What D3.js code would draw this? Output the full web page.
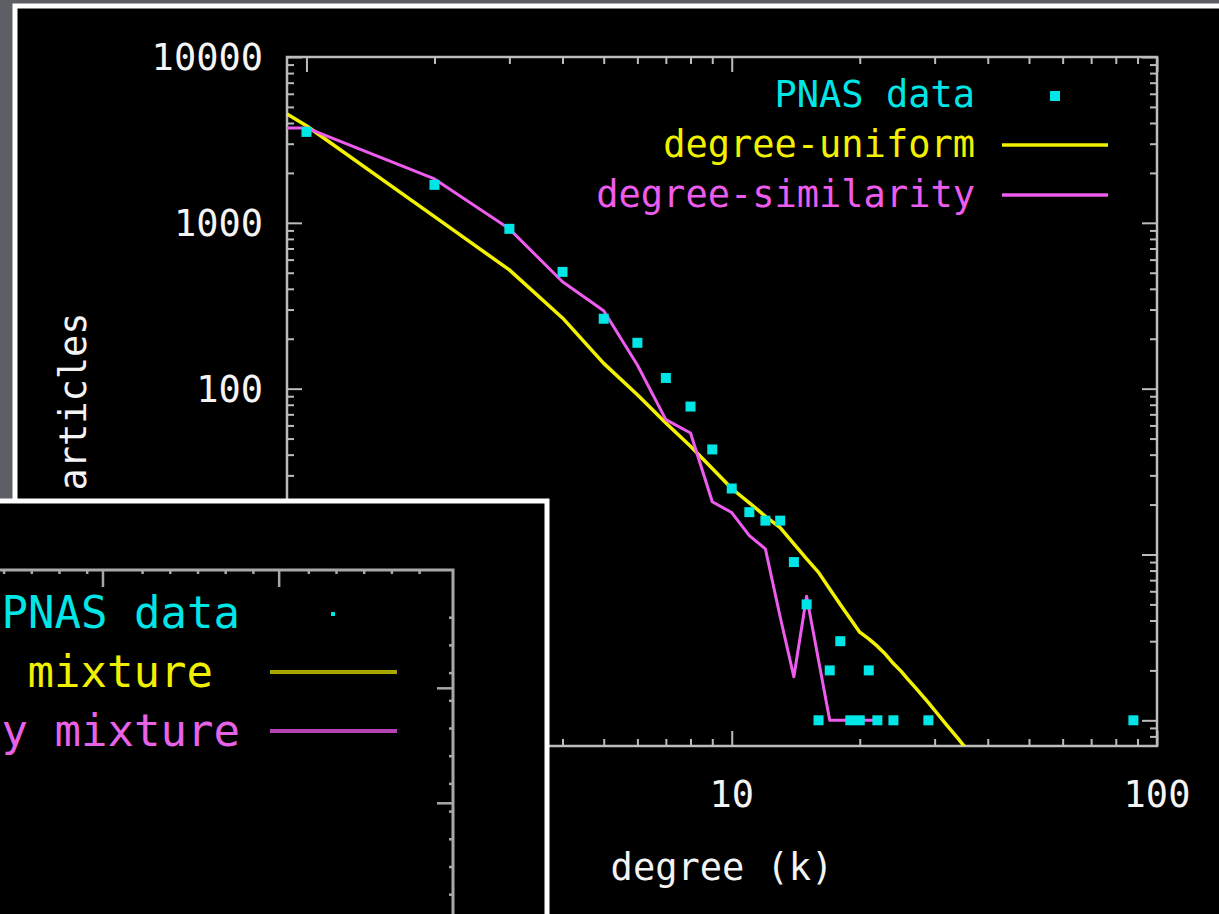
<!DOCTYPE html>
<html>
<head>
<meta charset="utf-8">
<script src="https://cdn.jsdelivr.net/npm/d3@7"></script>
<style>
  html, body { margin: 0; padding: 0; background: #5e5f64; overflow: hidden; }
  svg { display: block; }
  text { font-family: "DejaVu Sans Mono", monospace; }
</style>
</head>
<body>
<svg></svg>
<script>
// PNAS degree distribution (points)
const pnasK     = [1, 2, 3, 4, 5, 6, 7, 8, 9, 10, 11, 12, 13, 14, 15, 16, 17, 18, 19, 20, 21, 22, 24, 29, 88];
const pnasCount = [3535, 1694, 920, 506, 264, 189, 116, 78, 43, 25, 18, 16, 16, 9, 5, 1, 2, 3, 1, 1, 2, 1, 1, 1, 1];

// degree-uniform model
const uniformK     = [0.9, 1, 2, 3, 4, 5, 6, 7, 8, 9, 10, 11, 12, 13, 14, 15, 16, 17, 18, 19, 20, 21, 22, 23, 24, 25, 26, 27, 28, 29, 30, 32, 34, 36];
const uniformCount = [4540, 3850, 1090, 520, 267, 142, 92, 62, 45, 33, 25, 20.5, 17, 14.5, 11.6, 9.4, 7.8, 6.2, 5.0, 4.1, 3.4, 3.1, 2.8, 2.5, 2.2, 1.98, 1.76, 1.58, 1.42, 1.28, 1.15, 0.94, 0.78, 0.65];

// degree-similarity model
const simK     = [0.9, 1, 2, 3, 4, 5, 6, 7, 8, 9, 10, 11, 12, 13, 14, 15, 16, 17, 18, 19, 20, 21, 22];
const simCount = [3735, 3735, 1840, 920, 441, 295, 139, 65, 54, 20.8, 17.9, 13, 10.8, 4.2, 1.83, 5.6, 2.3, 1, 1, 1, 1, 1, 1];

// axis ticks
const xMajor = [1, 10, 100];
const xMinor = [2, 3, 4, 5, 6, 7, 8, 9, 20, 30, 40, 50, 60, 70, 80, 90];
const yMajor = [1, 10, 100, 1000, 10000];
const yMinor = [0.8, 0.9, 2, 3, 4, 5, 6, 7, 8, 9, 20, 30, 40, 50, 60, 70, 80, 90,
                200, 300, 400, 500, 600, 700, 800, 900, 2000, 3000, 4000, 5000, 6000, 7000, 8000, 9000];

const legendLabels = ["PNAS data", "degree-uniform", "degree-similarity"];

// the second (partly hidden) panel
const insetLabels = ["PNAS data", "degree-driven mixture", "degree-similarity mixture"];
const insetTopMinor = [0, 1, 2, 3, 5, 6, 7, 8, 9, 11, 12, 13, 14, 15];
const insetTopMajor = [3.57, 9.93];
const insetRightMinor = [1, 2, 3, 4, 5, 6, 7, 8, 9, 10, 11];
const insetRightMajor = [3.55, 7.7];

const cyan = "#00e6e6", yellow = "#f2f200", magenta = "#ee5cee", axisGrey = "#bcbcbc";

const svgWidth = 1219;
const svgHeight = 914;
const svg = d3.select("svg")
    .attr("width", svgWidth)
    .attr("height", svgHeight);

// back panel
svg.append("rect")
    .attr("x", 15).attr("y", 6)
    .attr("width", 1300).attr("height", 1000)
    .attr("fill", "#000")
    .attr("stroke", "#fff")
    .attr("stroke-width", 5);

const frame = {left: 287, top: 57, right: 1157, bottom: 746};

const x = d3.scaleLog().domain([0.9, 100]).range([frame.left, frame.right]);
const y = d3.scaleLog().domain([0.7, 10000]).range([frame.bottom, frame.top]);

svg.append("clipPath").attr("id", "plotclip")
  .append("rect")
    .attr("x", frame.left).attr("y", frame.top)
    .attr("width", frame.right - frame.left)
    .attr("height", frame.bottom - frame.top);

// ticks, mirrored on all four sides
function tickAxis(axis, values, size, transform) {
    const g = svg.append("g")
        .attr("transform", transform)
        .call(axis.tickValues(values).tickSize(-size).tickSizeOuter(0).tickFormat(""));
    g.select(".domain").remove();
    g.selectAll(".tick line").attr("stroke", axisGrey).attr("stroke-width", 2);
    return g;
}
tickAxis(d3.axisBottom(x), xMinor, 7, "translate(0," + frame.bottom + ")");
tickAxis(d3.axisBottom(x), xMajor, 15, "translate(0," + frame.bottom + ")");
tickAxis(d3.axisTop(x), xMinor, 7, "translate(0," + frame.top + ")");
tickAxis(d3.axisTop(x), xMajor, 15, "translate(0," + frame.top + ")");
tickAxis(d3.axisLeft(y), yMinor, 7, "translate(" + frame.left + ",0)");
tickAxis(d3.axisLeft(y), yMajor, 15, "translate(" + frame.left + ",0)");
tickAxis(d3.axisRight(y), yMinor, 7, "translate(" + frame.right + ",0)");
tickAxis(d3.axisRight(y), yMajor, 15, "translate(" + frame.right + ",0)");

svg.append("rect")
    .attr("x", frame.left).attr("y", frame.top)
    .attr("width", frame.right - frame.left)
    .attr("height", frame.bottom - frame.top)
    .attr("fill", "none")
    .attr("stroke", axisGrey)
    .attr("stroke-width", 2.5);

// tick labels
svg.append("g")
    .attr("fill", "#f4f4f4")
    .attr("font-size", 37)
    .attr("text-anchor", "end")
    .selectAll("text")
    .data(yMajor)
    .enter().append("text")
    .attr("x", 263)
    .attr("y", d => y(d) + 13)
    .text(d => d);

svg.append("g")
    .attr("fill", "#f4f4f4")
    .attr("font-size", 37)
    .attr("text-anchor", "middle")
    .selectAll("text")
    .data(xMajor)
    .enter().append("text")
    .attr("x", d => x(d))
    .attr("y", 807)
    .text(d => d);

// axis titles
svg.append("text")
    .attr("fill", "#f4f4f4")
    .attr("font-size", 37)
    .attr("text-anchor", "middle")
    .attr("x", 722)
    .attr("y", 880)
    .text("degree (k)");

svg.append("text")
    .attr("fill", "#f4f4f4")
    .attr("font-size", 37)
    .attr("text-anchor", "middle")
    .attr("transform", "translate(86," + (frame.top + frame.bottom) / 2 + ") rotate(-90)")
    .text("articles");

// series
const plot = svg.append("g").attr("clip-path", "url(#plotclip)");

const line = d3.line().x(d => x(d[0])).y(d => y(d[1]));

plot.append("path")
    .datum(d3.zip(uniformK, uniformCount))
    .attr("fill", "none")
    .attr("stroke", yellow)
    .attr("stroke-width", 3.5)
    .attr("stroke-linejoin", "round")
    .attr("d", line);

plot.append("path")
    .datum(d3.zip(simK, simCount))
    .attr("fill", "none")
    .attr("stroke", magenta)
    .attr("stroke-width", 3)
    .attr("stroke-linejoin", "round")
    .attr("d", line);

plot.append("g")
    .attr("fill", cyan)
    .selectAll("rect")
    .data(d3.zip(pnasK, pnasCount))
    .enter().append("rect")
    .attr("x", d => x(d[0]) - 5)
    .attr("y", d => y(d[1]) - 5)
    .attr("width", 10)
    .attr("height", 10);

// legend (top-right)
const legendColors = [cyan, yellow, magenta];
const legend = svg.append("g")
    .attr("font-size", 37)
    .attr("text-anchor", "end")
    .selectAll("g")
    .data(legendLabels)
    .enter().append("g")
    .attr("transform", (d, i) => "translate(0," + (96 + i * 50) + ")");

legend.append("text")
    .attr("x", 975)
    .attr("y", 11)
    .attr("fill", (d, i) => legendColors[i])
    .text(d => d);

legend.filter((d, i) => i === 0).append("rect")
    .attr("x", 1050).attr("y", -5)
    .attr("width", 10).attr("height", 10)
    .attr("fill", cyan);

legend.filter((d, i) => i > 0).append("line")
    .attr("x1", 1002).attr("x2", 1108)
    .attr("y1", -1).attr("y2", -1)
    .attr("stroke", (d, i) => legendColors[i + 1])
    .attr("stroke-width", 3.5);

// front panel (bottom-left, partly off screen)
const inset = svg.append("g");
inset.append("rect")
    .attr("x", -20).attr("y", 501)
    .attr("width", 567).attr("height", 500)
    .attr("fill", "#000")
    .attr("stroke", "#fff")
    .attr("stroke-width", 5);

const ix = d3.scaleLinear().domain([0, 1]).range([3.6, 31.3]);
const iy = d3.scaleLinear().domain([0, 1]).range([589.5, 617.2]);
const insetFrame = {top: 570, right: 453};

function insetTicks(axis, values, size, transform) {
    const g = inset.append("g")
        .attr("transform", transform)
        .call(axis.tickValues(values).tickSize(-size).tickSizeOuter(0).tickFormat(""));
    g.select(".domain").remove();
    g.selectAll(".tick line").attr("stroke", "#a8a8a8").attr("stroke-width", 2.5);
}
insetTicks(d3.axisTop(ix), insetTopMinor, 4, "translate(0," + insetFrame.top + ")");
insetTicks(d3.axisTop(ix), insetTopMajor, 17, "translate(0," + insetFrame.top + ")");
insetTicks(d3.axisRight(iy), insetRightMinor, 4, "translate(" + insetFrame.right + ",0)");
insetTicks(d3.axisRight(iy), insetRightMajor, 16, "translate(" + insetFrame.right + ",0)");

inset.append("path")
    .attr("d", "M-5," + insetFrame.top + "H" + insetFrame.right + "V920")
    .attr("fill", "none")
    .attr("stroke", "#a8a8a8")
    .attr("stroke-width", 3);

const insetText = [cyan, "#f0f000", "#e862e8"];
const insetLine = [null, "#aaa600", "#b444b4"];
const insetEnd = [240, 213, 240];
const insetLegend = inset.append("g")
    .attr("font-size", 44)
    .attr("text-anchor", "end")
    .selectAll("g")
    .data(insetLabels)
    .enter().append("g")
    .attr("transform", (d, i) => "translate(0," + (613 + i * 59) + ")");

insetLegend.append("text")
    .attr("x", (d, i) => insetEnd[i])
    .attr("y", 15)
    .attr("fill", (d, i) => insetText[i])
    .text(d => d);

insetLegend.filter((d, i) => i === 0).append("rect")
    .attr("x", 331).attr("y", -1)
    .attr("width", 4).attr("height", 4)
    .attr("fill", cyan);

insetLegend.filter((d, i) => i > 0).append("line")
    .attr("x1", 270).attr("x2", 397)
    .attr("y1", 0).attr("y2", 0)
    .attr("stroke", (d, i) => insetLine[i + 1])
    .attr("stroke-width", 4);
</script>
</body>
</html>
